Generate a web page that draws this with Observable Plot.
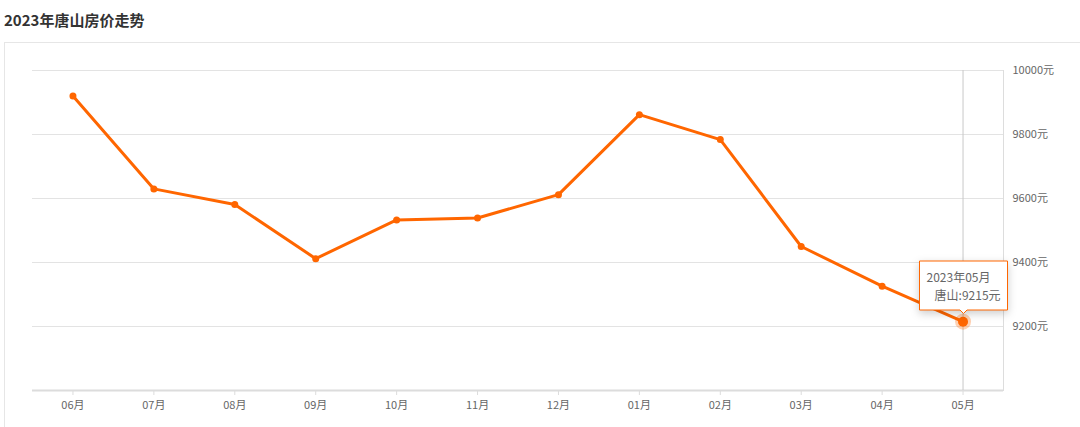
<!DOCTYPE html>
<html>
<head>
<meta charset="utf-8">
<script src="https://cdn.jsdelivr.net/npm/d3@7"></script>
<script src="https://cdn.jsdelivr.net/npm/@observablehq/plot@0.6"></script>
<style>
  html, body { margin: 0; padding: 0; background: #fff; }
  body { width: 1080px; height: 427px; position: relative; overflow: hidden;
         font-family: "Noto Sans CJK SC", "Noto Sans", sans-serif; }
  #title { position: absolute; left: 4px; top: 9px; font-size: 15px; font-weight: bold; color: #333; }
  #box { position: absolute; left: 4px; top: 42px; width: 1100px; height: 420px;
         border-left: 1px solid #e6e6e6; border-top: 1px solid #e6e6e6; }
  #chart { position: absolute; left: 0; top: 43px; }
</style>
</head>
<body>
<div id="title">2023年唐山房价走势</div>
<div id="box"></div>
<div id="chart"></div>
<script>
const months = ["06月","07月","08月","09月","10月","11月","12月","01月","02月","03月","04月","05月"];
const prices = [9920, 9630, 9581, 9412, 9533, 9539, 9612, 9862, 9784, 9450, 9326, 9215];
const yTicks = [9200, 9400, 9600, 9800, 10000];
const yDomain = [9000, 10000];
const seriesName = "唐山";
const tipMonth = "2023年05月";

const data = months.map((m, i) => ({month: m, price: prices[i]}));
const last = data[data.length - 1];
const tipData = [{...last, label: `${tipMonth}\n\u00a0\u00a0\u00a0${seriesName}:${last.price}元`}];
const orange = "#ff6600";

const chart = Plot.plot({
  width: 1080,
  height: 385,
  marginTop: 27,
  marginBottom: 38,
  marginLeft: 32,
  marginRight: 77,
  style: {background: "transparent", fontFamily: "'Noto Sans CJK SC', 'Noto Sans', sans-serif", fontSize: "11px", color: "#666"},
  x: {type: "point", domain: months, padding: 0.5, round: false, label: null},
  y: {domain: yDomain, label: null},
  marks: [
    Plot.ruleY(yTicks, {stroke: "#e3e3e3", strokeWidth: 1}),
    Plot.frame({anchor: "right", stroke: "#dddddd"}),
    Plot.ruleY([yDomain[0]], {stroke: "#dcdcdc", strokeWidth: 2}),
    Plot.ruleX([last.month], {y1: yDomain[0], y2: yDomain[1], stroke: "#c8c8c8"}),
    Plot.axisX({tickSize: 5, tickPadding: 6, stroke: "#dcdcdc", fill: "#666", fontSize: 11, label: null}),
    Plot.axisY({anchor: "right", ticks: yTicks, tickSize: 0, tickPadding: 9, tickFormat: d => `${d}元`, fill: "#666", fontSize: 11, label: null}),
    Plot.line(data, {x: "month", y: "price", stroke: orange, strokeWidth: 3, strokeLinejoin: "round"}),
    Plot.dot(data, {x: "month", y: "price", r: 3.5, fill: orange}),
    Plot.dot([last], {x: "month", y: "price", r: 5, fill: orange, stroke: orange, strokeOpacity: 0.3, strokeWidth: 6}),
    Plot.tip(tipData, {x: "month", y: "price", title: "label", anchor: "bottom", dy: -8, pointerSize: 7,
      fill: "white", stroke: orange, strokeWidth: 1, fontSize: 12, textPadding: 7, lineHeight: 1.5, textAnchor: "start"})
  ]
});
document.getElementById("chart").appendChild(chart);
</script>
</body>
</html>
